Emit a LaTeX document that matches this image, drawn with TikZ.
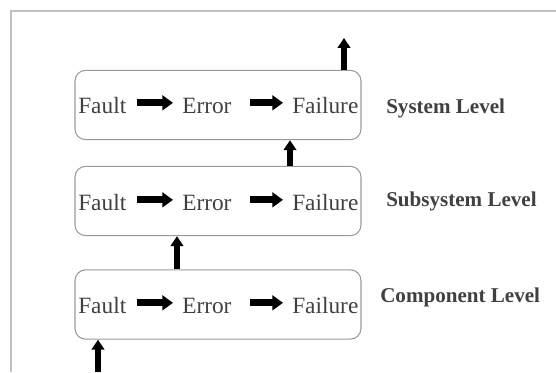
\documentclass[tikz,border=0pt]{standalone}
\usepackage{fontspec}
\setmainfont{Liberation Serif}
\usetikzlibrary{arrows.meta}
\usetikzlibrary{positioning}
\definecolor{txtgray}{HTML}{404040}
\definecolor{boxgray}{HTML}{9A9A9A}
\definecolor{framegray}{HTML}{C0C0C0}
\tikzset{lvlbox/.style = {draw=boxgray, line width=0.8pt, rounded corners=8pt,
                          minimum width=214.5pt, minimum height=52pt}}
\tikzset{word/.style = {text=txtgray, inner sep=0, anchor=west,
                        font=\fontsize{17.5}{20}\selectfont}}
\tikzset{lvlname/.style = {text=txtgray, inner sep=0, anchor=base west,
                           font=\bfseries\fontsize{15.8}{18}\selectfont}}
\tikzset{blk/.style = {line width=5.2pt, -{Triangle[length=8pt,width=11pt]}}}
\tikzset{uparr/.style = {line width=4.5pt, -{Triangle[length=7.5pt,width=9.5pt]}}}

\begin{document}
\begin{tikzpicture}[x=0.75pt, y=0.75pt]
    \useasboundingbox (0,0) rectangle (556,372);
    \draw [framegray, line width=1.2pt] (556,361) -| (11,0);
    \foreach \lvl/\y/\ty in {sys/267/266.5, sub/171/169.5, comp/67.5/66.5} {
      \node [lvlbox] (\lvl) at (218,\y) {};
      \node [word] (\lvl-fault) at (78,\ty) {Fault};
      \node [word] (\lvl-error) at (182,\ty) {Error};
      \node [word] (\lvl-fail) at (292,\ty) {Failure};
      \draw [blk] ([xshift=8pt,yshift=2pt]\lvl-fault.east) -- ([xshift=-6.75pt,yshift=2pt]\lvl-error.west);
      \draw [blk] ([xshift=13.5pt,yshift=2pt]\lvl-error.east) -- ([xshift=-6.75pt,yshift=2pt]\lvl-fail.west);
    }
    \node [lvlname] (syslbl) at (386,259) {System Level};
    \node [lvlname] (sublbl) at (386,166) {Subsystem Level};
    \node [lvlname] (complbl) at (380,70) {Component Level};
    \coordinate (in) at (98,0);
    \coordinate (up1) at (177,0);
    \coordinate (up2) at (290,0);
    \coordinate (out) at (344,334);
    \draw [uparr] (in) -- (in |- comp.south);
    \draw [uparr] (up1 |- comp.north) -- (up1 |- sub.south);
    \draw [uparr] (up2 |- sub.north) -- (up2 |- sys.south);
    \draw [uparr] (out |- sys.north) -- (out);
\end{tikzpicture}
\end{document}
